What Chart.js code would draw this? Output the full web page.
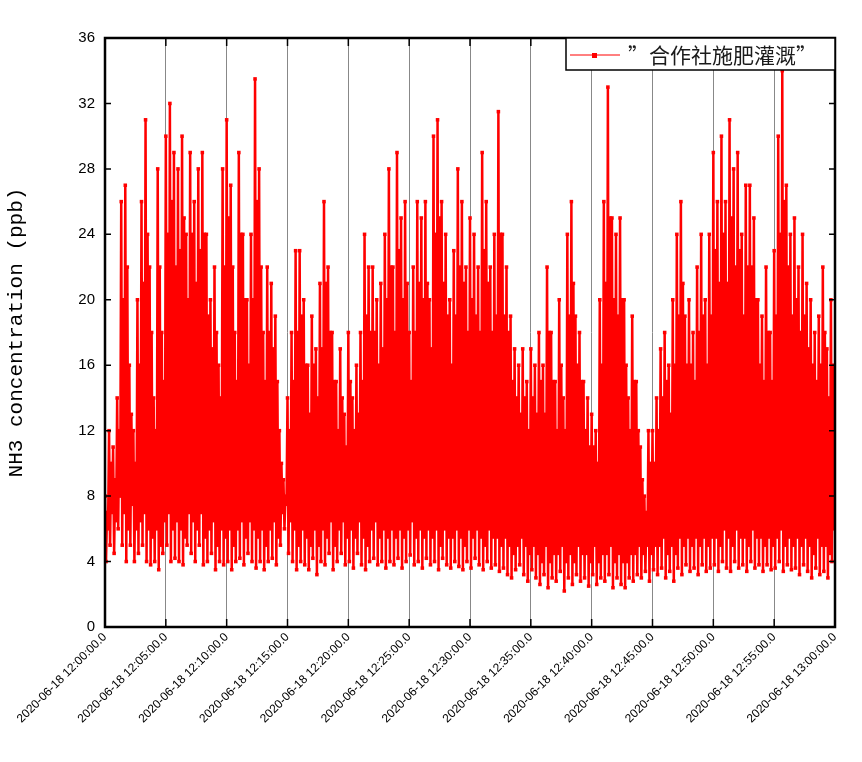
<!DOCTYPE html>
<html>
<head>
<meta charset="utf-8">
<script src="https://cdn.jsdelivr.net/npm/chart.js@4"></script>
<style>
  body { margin: 0; background: #fff; }
  #wrap { width: 862px; height: 762px; }
</style>
</head>
<body>
<div id="wrap"><canvas id="nh3Chart" width="862" height="762"></canvas></div>
<script>
// minutes after 12:00; every 20 s: peak, trough, second peak, second trough
const seriesName = "\u201d\u5408\u4f5c\u793e\u65bd\u80a5\u704c\u6e89\u201d";
const tickMinutes = [0, 5, 10, 15, 20, 25, 30, 35, 40, 45, 50, 55, 60];
const yTicks = [0, 4, 8, 12, 16, 20, 24, 28, 32, 36];
const highs = [
  8, 12, 11, 14, 26, 27, 16, 12, 20, 26, 31, 22, 14, 28, 18,
  30, 32, 29, 28, 30, 24, 29, 26, 28, 29, 24, 20, 22, 16, 28,
  31, 27, 18, 29, 24, 20, 24, 33.5, 28, 18, 22, 21, 19, 12, 9,
  14, 18, 23, 23, 20, 16, 19, 17, 21, 26, 22, 18, 15, 17, 13,
  18, 14, 16, 18, 24, 22, 22, 20, 21, 24, 28, 22, 29, 25, 26,
  18, 22, 26, 25, 26, 20, 30, 31, 26, 24, 20, 23, 28, 26, 22,
  25, 24, 22, 29, 26, 22, 24, 31.5, 24, 22, 19, 17, 16, 17, 15,
  17, 16, 18, 16, 22, 18, 15, 20, 14, 24, 26, 19, 18, 15, 14,
  13, 12, 20, 26, 33, 25, 24, 25, 20, 14, 19, 15, 11, 8, 12,
  12, 14, 17, 18, 16, 20, 24, 26, 19, 20, 18, 22, 24, 20, 24,
  29, 26, 30, 26, 31, 28, 29, 24, 27, 27, 25, 20, 19, 22, 18,
  23, 30, 34, 27, 24, 25, 22, 24, 21, 20, 18, 19, 22, 17, 20
];
const lows = [
  4, 5, 4.5, 6, 5, 4, 5, 4, 4.5, 5, 4, 3.8, 4, 3.5, 4.5,
  5, 4, 4.2, 4, 3.8, 5, 4.5, 4, 5, 3.8, 4, 4.5, 3.5, 4, 3.8,
  4, 3.5, 4, 4.2, 3.8, 4.5, 4, 3.6, 4, 3.5, 4, 4.2, 3.8, 5, 6,
  4.5, 4, 3.5, 4, 3.8, 3.5, 4.2, 3.2, 4, 3.8, 4.5, 3.5, 4, 4.5, 3.8,
  4, 3.6, 4.5, 3.8, 3.5, 4, 4.2, 3.8, 4, 3.6, 4, 3.8, 4.2, 3.6, 4,
  4.4, 3.8, 4, 3.6, 4.2, 3.8, 4, 3.5, 4.2, 3.8, 3.6, 4, 3.7, 3.5, 4,
  3.6, 4.2, 3.8, 3.5, 4, 3.6, 3.8, 3.4, 3.6, 3.2, 3, 3.5, 3.8, 3.2, 2.8,
  3.5, 3, 2.6, 3.2, 2.4, 3, 2.8, 3.4, 2.2, 3, 2.6, 3.2, 2.8, 3, 2.5,
  3.2, 2.6, 3, 2.8, 3.2, 2.4, 3, 2.6, 2.4, 3, 2.8, 3.2, 3, 3.4, 2.8,
  3.5, 3.2, 3.6, 3, 3.4, 2.8, 3.6, 3.2, 3.8, 3.4, 3.6, 3.2, 3.8, 3.4, 3.6,
  3.8, 3.4, 4, 3.6, 3.4, 4, 3.6, 3.8, 3.4, 4, 3.6, 3.8, 3.4, 3.8, 3.5,
  3.6, 4, 3.4, 3.8, 3.5, 3.6, 3.2, 3.8, 3.4, 3, 3.6, 3.2, 3.4, 3, 4
];
const highs2 = [
  7, 10, 9, 12, 20, 22, 13, 10, 16, 21, 24, 18, 12, 22, 15,
  24, 26, 22, 23, 25, 20, 24, 21, 23, 24, 19, 17, 18, 14, 22,
  25, 22, 15, 24, 20, 16, 20, 26, 22, 15, 18, 17, 15, 10, 8,
  12, 15, 18, 19, 16, 13, 16, 14, 17, 21, 18, 15, 12, 14, 11,
  15, 12, 13, 15, 19, 18, 18, 16, 17, 20, 22, 18, 23, 20, 21,
  15, 18, 21, 20, 21, 17, 24, 25, 21, 19, 16, 19, 22, 21, 18,
  20, 19, 18, 23, 21, 18, 19, 24, 19, 18, 15, 14, 13, 14, 12,
  14, 13, 15, 13, 18, 15, 12, 16, 12, 19, 21, 16, 15, 12, 11,
  11, 10, 16, 21, 25, 20, 19, 20, 16, 12, 15, 12, 9, 7, 10,
  10, 12, 14, 15, 13, 16, 19, 21, 16, 16, 15, 18, 19, 16, 19,
  23, 21, 24, 21, 25, 22, 23, 19, 22, 22, 20, 16, 15, 18, 15,
  19, 24, 26, 22, 19, 20, 18, 19, 17, 16, 15, 16, 18, 14, 16
];
const lows2 = [
  6, 7, 6.5, 8, 7, 6, 7.5, 6, 6.5, 7, 6, 5.5, 6, 5, 6.5,
  7, 6, 6.5, 6, 5.5, 7, 6.5, 6, 7, 5.5, 6, 6.5, 5, 6, 5.5,
  6, 5, 6, 6.5, 5.5, 6.5, 6, 5.5, 6, 5, 6, 6.5, 5.5, 7, 7.5,
  6.5, 6, 5, 6, 5.5, 5, 6, 5, 6, 5.5, 6.5, 5, 6, 6.5, 5.5,
  6, 5.5, 6.5, 5.5, 5, 6, 6.5, 5.5, 6, 5.5, 6, 5.5, 6, 5.5, 6,
  6.5, 5.5, 6, 5.5, 6, 5.5, 6, 5, 6, 5.5, 5.5, 6, 5.5, 5, 6,
  5.5, 6, 5.5, 5, 6, 5.5, 5.5, 5, 5.5, 5, 4.5, 5, 5.5, 5, 4.5,
  5, 4.5, 4, 5, 4, 4.5, 4.5, 5, 4, 4.5, 4, 5, 4.5, 4.5, 4,
  5, 4, 4.5, 4.5, 5, 4, 4.5, 4, 4, 4.5, 4.5, 5, 4.5, 5, 4.5,
  5, 5, 5.5, 4.5, 5, 4.5, 5.5, 5, 5.5, 5, 5.5, 5, 5.5, 5, 5.5,
  5.5, 5, 6, 5.5, 5, 6, 5.5, 5.5, 5, 6, 5.5, 5.5, 5, 5.5, 5,
  5.5, 6, 5, 5.5, 5, 5.5, 5, 5.5, 5, 4.5, 5.5, 5, 5, 4.5, 6
];

const points = [];
for (let i = 0; i < highs.length; i++) {
  points.push({ x: i / 3, y: highs[i] });
  points.push({ x: i / 3 + 1 / 12, y: lows[i] });
  points.push({ x: i / 3 + 2 / 12, y: highs2[i] });
  points.push({ x: i / 3 + 3 / 12, y: lows2[i] });
}

function timeLabel(m) {
  const hh = m === 60 ? 13 : 12;
  const mm = m === 60 ? 0 : m;
  return "2020-06-18 " + hh + ":" + String(mm).padStart(2, "0") + ":00.0";
}

const framePlugin = {
  id: "frame",
  afterDraw(chart) {
    const { ctx, chartArea: a, scales } = chart;
    ctx.save();
    ctx.strokeStyle = "#000";
    ctx.lineWidth = 1.5;
    tickMinutes.forEach(m => {
      const px = scales.x.getPixelForValue(m);
      ctx.beginPath();
      ctx.moveTo(px, a.bottom); ctx.lineTo(px, a.bottom - 8);
      ctx.moveTo(px, a.top); ctx.lineTo(px, a.top + 8);
      ctx.stroke();
    });
    yTicks.forEach(v => {
      const py = scales.y.getPixelForValue(v);
      ctx.beginPath();
      ctx.moveTo(a.left, py); ctx.lineTo(a.left + 6, py);
      ctx.moveTo(a.right, py); ctx.lineTo(a.right - 6, py);
      ctx.stroke();
    });
    ctx.lineWidth = 2.5;
    ctx.strokeRect(a.left, a.top, a.right - a.left, a.bottom - a.top);
    // legend box
    const lx = a.right - 269, ly = a.top, lw = 269, lh = 32;
    ctx.fillStyle = "#fff";
    ctx.fillRect(lx, ly, lw, lh);
    ctx.lineWidth = 1.5;
    ctx.strokeRect(lx, ly, lw, lh);
    ctx.strokeStyle = "#f00";
    ctx.lineWidth = 1;
    ctx.beginPath();
    ctx.moveTo(lx + 4, ly + 17); ctx.lineTo(lx + 54, ly + 17);
    ctx.stroke();
    ctx.fillStyle = "#f00";
    ctx.fillRect(lx + 26, ly + 15, 5, 5);
    ctx.fillStyle = "#1a1a1a";
    ctx.font = "21px 'Noto Sans CJK SC'";
    ctx.textBaseline = "middle";
    ctx.fillText(seriesName, lx + 62, ly + 17);
    ctx.restore();
  }
};

const ctx = document.getElementById("nh3Chart").getContext("2d");
new Chart(ctx, {
  type: "line",
  data: {
    datasets: [{
      label: seriesName,
      data: points,
      borderColor: "#ff0000",
      backgroundColor: "#ff0000",
      borderWidth: 2.5,
      pointStyle: "rect",
      pointRadius: 2.5,
      pointBorderWidth: 0,
      tension: 0
    }]
  },
  options: {
    responsive: false,
    animation: false,
    layout: { padding: { top: 38, right: 27, left: 0, bottom: 0 } },
    plugins: { legend: { display: false }, tooltip: { enabled: false } },
    scales: {
      x: {
        type: "linear",
        min: 0,
        max: 60,
        afterBuildTicks(scale) { scale.ticks = tickMinutes.map(v => ({ value: v })); },
        afterFit(scale) { scale.height = 135; scale.paddingLeft = 0; scale.paddingRight = 0; },
        ticks: {
          minRotation: 45,
          maxRotation: 45,
          color: "#000",
          font: { family: "Liberation Sans", size: 12 },
          callback: v => timeLabel(v)
        },
        grid: { color: "#888", lineWidth: 1, drawTicks: false },
        border: { display: false }
      },
      y: {
        min: 0,
        max: 36,
        afterBuildTicks(scale) { scale.ticks = yTicks.map(v => ({ value: v })); },
        afterFit(scale) { scale.width = 105; },
        ticks: { color: "#000", padding: 10, font: { family: "Liberation Sans", size: 15 } },
        grid: { display: false, drawTicks: false },
        border: { display: false },
        title: {
          display: true,
          text: "NH3 concentration (ppb)",
          color: "#000",
          font: { family: "Liberation Mono", size: 21 }
        }
      }
    }
  },
  plugins: [framePlugin]
});
</script>
</body>
</html>
